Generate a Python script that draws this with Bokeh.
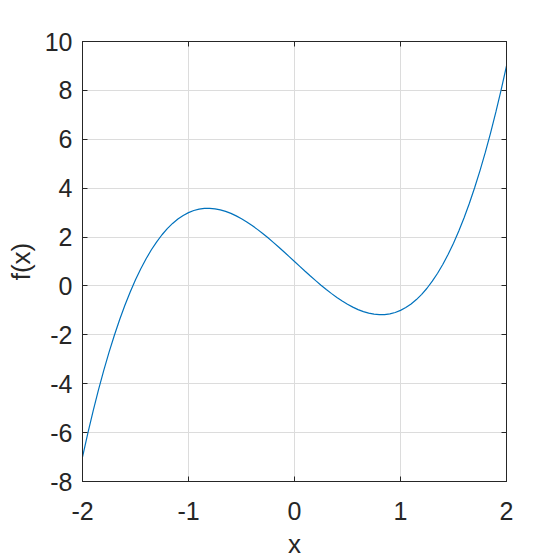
from bokeh.plotting import figure
from bokeh.models import LinearAxis, FixedTicker, Range1d
from bokeh.embed import file_html
from bokeh.resources import INLINE

x_vals = [-2.0, -1.95, -1.9, -1.85, -1.8, -1.75, -1.7, -1.65, -1.6, -1.55,
          -1.5, -1.45, -1.4, -1.35, -1.3, -1.25, -1.2, -1.15, -1.1, -1.05,
          -1.0, -0.95, -0.9, -0.85, -0.8, -0.75, -0.7, -0.65, -0.6, -0.55,
          -0.5, -0.45, -0.4, -0.35, -0.3, -0.25, -0.2, -0.15, -0.1, -0.05,
          0.0, 0.05, 0.1, 0.15, 0.2, 0.25, 0.3, 0.35, 0.4, 0.45,
          0.5, 0.55, 0.6, 0.65, 0.7, 0.75, 0.8, 0.85, 0.9, 0.95,
          1.0, 1.05, 1.1, 1.15, 1.2, 1.25, 1.3, 1.35, 1.4, 1.45,
          1.5, 1.55, 1.6, 1.65, 1.7, 1.75, 1.8, 1.85, 1.9, 1.95, 2.0]
y_vals = [-7.0, -6.030, -5.118, -4.263, -3.464, -2.719, -2.026, -1.384, -0.792, -0.248,
          0.25, 0.703, 1.112, 1.479, 1.806, 2.094, 2.344, 2.558, 2.738, 2.885,
          3.0, 3.085, 3.142, 3.172, 3.176, 3.156, 3.114, 3.051, 2.968, 2.867,
          2.75, 2.618, 2.472, 2.314, 2.146, 1.969, 1.784, 1.593, 1.398, 1.200,
          1.0, 0.800, 0.602, 0.407, 0.216, 0.031, -0.146, -0.314, -0.472, -0.618,
          -0.75, -0.867, -0.968, -1.051, -1.114, -1.156, -1.176, -1.172, -1.142, -1.085,
          -1.0, -0.885, -0.738, -0.558, -0.344, -0.094, 0.194, 0.521, 0.888, 1.297,
          1.75, 2.248, 2.792, 3.384, 4.026, 4.719, 5.464, 6.263, 7.118, 8.030, 9.0]
x_ticks = [-2, -1, 0, 1, 2]
y_ticks = [-8, -6, -4, -2, 0, 2, 4, 6, 8, 10]

FONT = "Liberation Sans"
AX = "#262626"

p = figure(frame_width=424, frame_height=440,
           x_range=Range1d(-2, 2), y_range=Range1d(-8, 10),
           output_backend="svg", toolbar_location=None,
           min_border_left=82, min_border_top=41, min_border_right=40, min_border_bottom=60)
p.outline_line_color = AX
p.outline_line_width = 1
p.line(x_vals, y_vals, line_color="#0072BD", line_width=1.2)

for ax in [p.xaxis[0], p.yaxis[0]]:
    ax.major_label_text_font = FONT
    ax.major_label_text_font_size = "25px"
    ax.major_label_text_color = AX
    ax.axis_label_text_font = FONT
    ax.axis_label_text_font_size = "26px"
    ax.axis_label_text_font_style = "normal"
    ax.axis_label_text_color = AX
    ax.axis_line_color = AX
    ax.major_tick_line_color = AX
    ax.major_tick_in = 5
    ax.major_tick_out = 0
    ax.minor_tick_line_color = None
p.xaxis[0].ticker = FixedTicker(ticks=x_ticks)
p.yaxis[0].ticker = FixedTicker(ticks=y_ticks)
p.xaxis[0].major_label_overrides = {t: str(t) for t in x_ticks}
p.yaxis[0].major_label_overrides = {t: str(t) for t in y_ticks}
p.xaxis[0].axis_label = "x"
p.yaxis[0].axis_label = "f(x)"
p.xaxis[0].major_label_standoff = 20
p.yaxis[0].major_label_standoff = 10
p.xaxis[0].axis_label_standoff = 6
p.yaxis[0].axis_label_standoff = 6

for loc, tk in [("right", y_ticks), ("above", x_ticks)]:
    a = LinearAxis(ticker=FixedTicker(ticks=tk))
    a.major_label_text_color = None
    a.major_label_standoff = 0
    a.axis_line_color = AX
    a.major_tick_line_color = AX
    a.major_tick_in = 5
    a.major_tick_out = 0
    a.minor_tick_line_color = None
    p.add_layout(a, loc)

p.xgrid.ticker = FixedTicker(ticks=x_ticks)
p.ygrid.ticker = FixedTicker(ticks=y_ticks)
p.grid.grid_line_color = "#dcdcdc"
p.grid.grid_line_width = 1
p.background_fill_color = "white"
p.border_fill_color = "white"

open("out.html", "w").write(file_html(p, INLINE))
